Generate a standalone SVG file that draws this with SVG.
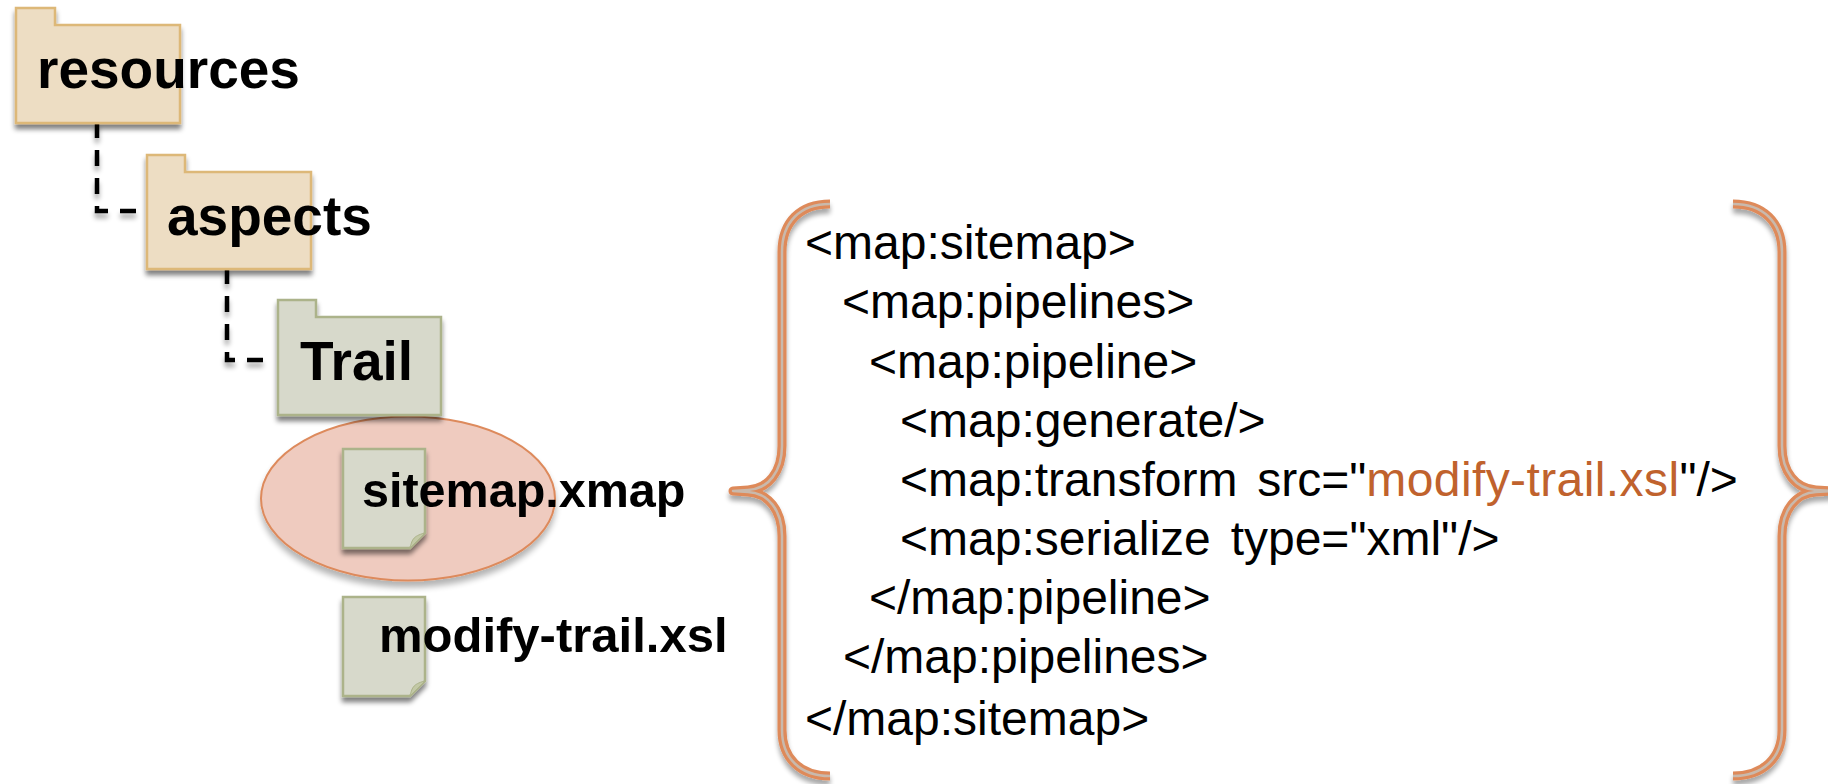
<svg xmlns="http://www.w3.org/2000/svg" width="1828" height="784" viewBox="0 0 1828 784">
<style>
text{font-family:"Liberation Sans",Arial,sans-serif;fill:#000}
.b{font-weight:700}
.t55{font-size:55px}
.t48{font-size:48.500px}
.t49{font-size:49px}
.code{font-size:48px;word-spacing:6.500px}
.tan{fill:#EDDDC3;stroke:#DDB878;stroke-width:2.5}
.sage{fill:#D7D9CB;stroke:#ACB38A;stroke-width:2.5}
.fold{fill:#C3C9A6;stroke:#ACB38A;stroke-width:1}
.dash{fill:none;stroke:#000;stroke-width:4.5;stroke-dasharray:16 12}
.brO{fill:none;stroke:#DE8A5A;stroke-width:9;stroke-linejoin:round}
.brI{fill:none;stroke:#C9B9AC;stroke-width:2.500;stroke-linejoin:round}
</style>
<defs>
<filter id="sh" x="-10%" y="-10%" width="120%" height="125%"><feGaussianBlur in="SourceAlpha" stdDeviation="2.5"/><feOffset dy="5"/><feComponentTransfer><feFuncA type="linear" slope="0.5"/></feComponentTransfer><feMerge><feMergeNode/><feMergeNode in="SourceGraphic"/></feMerge></filter>
<filter id="shE" x="-10%" y="-10%" width="120%" height="125%"><feGaussianBlur in="SourceAlpha" stdDeviation="3"/><feOffset dy="6"/><feComponentTransfer><feFuncA type="linear" slope="0.3"/></feComponentTransfer><feMerge><feMergeNode/><feMergeNode in="SourceGraphic"/></feMerge></filter>
<filter id="shL" filterUnits="userSpaceOnUse" x="0" y="0" width="1828" height="784"><feGaussianBlur in="SourceAlpha" stdDeviation="2.5"/><feOffset dy="5"/><feComponentTransfer><feFuncA type="linear" slope="0.35"/></feComponentTransfer><feMerge><feMergeNode/><feMergeNode in="SourceGraphic"/></feMerge></filter>
<path id="lb" d="M830 204C800 204 782 222 782 252V446C782 472 768 489 748 490L733 491L748 492C768 493 782 510 782 536V730C782 758 800 776 830 776"/>
<path id="rb" d="M1733 204C1763 204 1782 222 1782 252V446C1782 472 1796 489 1816 490L1833 491L1816 492C1796 493 1782 510 1782 536V730C1782 758 1763 776 1733 776"/>
</defs>
<g id="connectors" filter="url(#shL)">
<path class="dash" d="M97 122V211H138"/>
<path class="dash" d="M227 268V360H267"/>
</g>
<g id="highlight"><ellipse cx="408" cy="498.500" rx="147" ry="82" fill="#EFCBBF" stroke="#DD8A5C" stroke-width="2" filter="url(#shE)"/></g>
<g id="resources">
<path class="tan" filter="url(#sh)" d="M16 8H55V25H180V123H16Z"/>
<text class="b t55" x="37" y="88">resources</text>
</g>
<g id="aspects">
<path class="tan" filter="url(#sh)" d="M147 155H185V172H311V269H147Z"/>
<text class="b t55" x="167" y="235">aspects</text>
</g>
<g id="trail">
<path class="sage" filter="url(#sh)" d="M278 300H316V317H441V415H278Z"/>
<text class="b t55" x="300" y="380">Trail</text>
</g>
<g id="sitemap-xmap">
<path class="sage" filter="url(#sh)" d="M343 449H425V533L410 548H343Z"/>
<path class="fold" d="M410 548C412 541 412 536 425 533L410 548Z"/>
<text class="b t48" x="362" y="507">sitemap.xmap</text>
</g>
<g id="modify-trail-xsl">
<path class="sage" filter="url(#sh)" d="M343 597H425V681L410 696H343Z"/>
<path class="fold" d="M410 696C412 689 412 684 425 681L410 696Z"/>
<text class="b t49" x="379" y="652">modify-trail.xsl</text>
</g>
<g id="left-brace" filter="url(#shL)"><use href="#lb" class="brO"/><use href="#lb" class="brI"/></g>
<g id="right-brace" filter="url(#shL)"><use href="#rb" class="brO"/><use href="#rb" class="brI"/></g>
<g id="code">
<text class="code" x="805" y="259">&lt;map:sitemap&gt;</text>
<text class="code" x="842" y="318">&lt;map:pipelines&gt;</text>
<text class="code" x="869" y="378">&lt;map:pipeline&gt;</text>
<text class="code" x="900" y="437">&lt;map:generate/&gt;</text>
<text class="code" x="900" y="496">&lt;map:transform src="<tspan style="fill:#C0622D;letter-spacing:.4px">modify-trail.xsl</tspan>"/&gt;</text>
<text class="code" x="900" y="555">&lt;map:serialize type="xml"/&gt;</text>
<text class="code" x="869" y="614">&lt;/map:pipeline&gt;</text>
<text class="code" x="843" y="673">&lt;/map:pipelines&gt;</text>
<text class="code" x="805" y="735">&lt;/map:sitemap&gt;</text>
</g>
</svg>
